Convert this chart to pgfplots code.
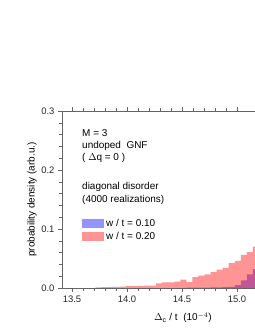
\documentclass[border=0pt]{standalone}
\usepackage{fontspec}
\setmainfont{Liberation Sans}
\usepackage{pgfplots}
\pgfplotsset{compat=1.18}
\definecolor{axgray}{RGB}{100,100,100}
\begin{document}
\begin{tikzpicture}
\useasboundingbox (0,0) rectangle (255bp,330bp);
\begin{axis}[
  at={(62bp,42bp)}, anchor=south west,
  scale only axis, width=193bp, height=177bp,
  xmin=13.409, xmax=15.164, ymin=0, ymax=0.3,
  axis x line=box, axis y line=left,
  axis line style={axgray, line width=0.6pt, -},
  xtick={13.5,14.0,14.5,15.0}, ytick={0,0.1,0.2,0.3},
  minor x tick num=4, minor y tick num=4,
  tick align=outside,
  major tick length=4bp, minor tick length=2.5bp,
  tick style={axgray, line width=0.5pt},
  /pgf/number format/assume math mode=true,
  /pgf/number format/.cd, fixed, fixed zerofill, precision=1, /pgfplots/.cd,
  ticklabel style={font=\fontsize{9.5}{11}\selectfont, text=black!85},
  xlabel={$\Delta_{\mathrm{c}}$ / t\ \ (10$^{-4}$)},
  ylabel={probability density (arb.u.)},
  every axis x label/.style={at={(axis description cs:0.627,-0.169)}, anchor=center, font=\fontsize{10}{11}\selectfont},
  every axis y label/.style={at={(axis description cs:-0.155,0.5)}, rotate=90, anchor=center, font=\fontsize{10}{11}\selectfont},
  legend style={draw=none, fill=none, at={(axis description cs:0.1036,0.401)}, anchor=north west, inner sep=0pt, font=\fontsize{10}{11}\selectfont, row sep=0.5pt},
  legend cell align=left,
  legend image code/.code={\fill[#1] (0bp,-4.5bp) rectangle (22bp,4.5bp);},
]
\addplot[fill=blue, fill opacity=0.42, draw=none, const plot mark left] coordinates {
(14.540,0.0005) (14.595,0.0005) (14.650,0.0005) (14.705,0.0008) (14.760,0.001)
(14.815,0.0012) (14.870,0.0015) (14.925,0.002) (14.980,0.005) (15.035,0.013)
(15.090,0.023) (15.145,0.032) (15.200,0.040) (15.255,0.040)
} \closedcycle;
\addlegendentry{w / t = 0.10}
\addplot[fill=red, fill opacity=0.42, draw=none, const plot mark left] coordinates {
(13.715,0.001) (13.770,0.0015) (13.825,0.002) (13.880,0.002) (13.935,0.0025)
(13.990,0.003) (14.045,0.003) (14.100,0.0035) (14.155,0.004) (14.210,0.004)
(14.265,0.008) (14.320,0.0096) (14.375,0.0096) (14.430,0.011) (14.485,0.014)
(14.540,0.010) (14.595,0.0186) (14.650,0.021) (14.705,0.023) (14.760,0.027)
(14.815,0.031) (14.870,0.034) (14.925,0.042) (14.980,0.046) (15.035,0.056)
(15.090,0.061) (15.145,0.070) (15.200,0.075) (15.255,0.075)
} \closedcycle;
\addlegendentry{w / t = 0.20}
\begin{scope}[every node/.style={anchor=west, inner sep=0pt, font=\fontsize{10}{11}\selectfont}]
\node at (axis cs:13.591,0.2627) {M = 3};
\node at (axis cs:13.591,0.2407) {undoped\ \ GNF};
\node at (axis cs:13.591,0.2203) {( $\Delta$q = 0 )};
\node at (axis cs:13.591,0.1712) {diagonal disorder};
\node at (axis cs:13.591,0.1500) {(4000 realizations)};
\end{scope}
\end{axis}
\end{tikzpicture}
\end{document}
